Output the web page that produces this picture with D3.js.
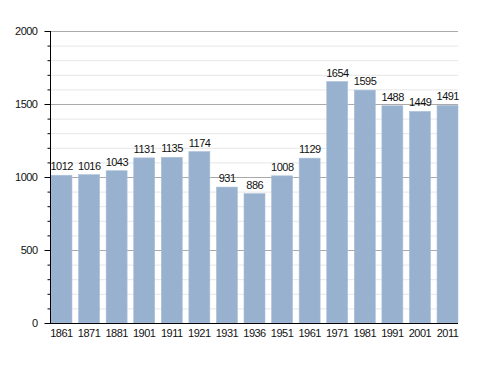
<!DOCTYPE html>
<html><head><meta charset="utf-8">
<script src="https://cdn.jsdelivr.net/npm/d3@7"></script>
<style>body{margin:0;background:#fff}svg{display:block}text{font-family:"Liberation Sans",Arial,sans-serif;font-size:11px;fill:#111;letter-spacing:-0.5px}</style>
</head><body><svg id="c" width="488" height="373"></svg>
<script>
const years = ["1861","1871","1881","1901","1911","1921","1931","1936","1951","1961","1971","1981","1991","2001","2011"];
const population = [1012,1016,1043,1131,1135,1174,931,886,1008,1129,1654,1595,1488,1449,1491];
const yTicks = [0,500,1000,1500,2000];
const minorTicks = d3.range(0,2001,100);

(function(){
const svg = d3.select("#c");
const pLeft = 50, pRight = 458, pTop = 31, pBottom = 323;
const x = d3.scaleBand().domain(years).range([51, 458]).paddingInner(0.24).paddingOuter(0);
const y = d3.scaleLinear().domain([0,2000]).range([pBottom, pTop]);

svg.append("g").selectAll("line").data(minorTicks.filter(v=>v%500!==0)).join("line")
  .attr("x1",pLeft).attr("x2",pRight).attr("y1",d=>y(d)+0.5).attr("y2",d=>y(d)+0.5)
  .attr("stroke","#e6e6e6").attr("stroke-width",1);
svg.append("g").selectAll("line").data(yTicks.filter(v=>v>0)).join("line")
  .attr("x1",pLeft).attr("x2",pRight).attr("y1",d=>y(d)+0.5).attr("y2",d=>y(d)+0.5)
  .attr("stroke","#aaaaaa").attr("stroke-width",1);

svg.append("g").selectAll("rect").data(population).join("rect")
  .attr("x",(d,i)=>x(years[i])).attr("width",x.bandwidth())
  .attr("y",d=>y(d)).attr("height",d=>pBottom-y(d))
  .attr("fill","#98b1cf").attr("stroke","#a9bfd9").attr("stroke-width",0.6);

svg.append("g").selectAll("text").data(population).join("text")
  .attr("x",(d,i)=>x(years[i])+x.bandwidth()/2+0.25).attr("y",d=>y(d)-5)
  .attr("text-anchor","middle").text(d=>d);

const ya = svg.append("g").attr("transform",`translate(${pLeft+0.5},0)`);
ya.call(d3.axisLeft(y).tickValues(yTicks).tickSize(6).tickPadding(7).tickFormat(d3.format("d")));
ya.selectAll(".domain").remove();
ya.append("g").selectAll("line").data(minorTicks.filter(v=>v%500!==0)).join("line")
  .attr("x1",-3).attr("x2",0).attr("y1",d=>y(d)+0.5).attr("y2",d=>y(d)+0.5).attr("stroke","#000");
ya.append("line").attr("x1",0).attr("x2",0).attr("y1",pTop).attr("y2",pBottom+0.5).attr("stroke","#000");
ya.selectAll("text").attr("font-size",11).attr("font-family","Liberation Sans, Arial, sans-serif").attr("fill","#111");

const xa = svg.append("g").attr("transform",`translate(0,${pBottom+0.5})`);
xa.call(d3.axisBottom(x).tickSize(0).tickPadding(6));
xa.select(".domain").attr("d",`M${pLeft},0H${pRight}`).attr("stroke","#000");
xa.selectAll("text").attr("font-size",11).attr("font-family","Liberation Sans, Arial, sans-serif").attr("fill","#111");
})();
</script></body></html>
